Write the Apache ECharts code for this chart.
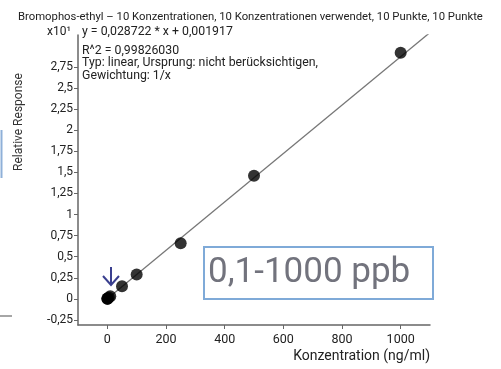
<!DOCTYPE html>
<html><head><meta charset="utf-8">
<script src="https://cdn.jsdelivr.net/npm/echarts@6/dist/echarts.min.js"></script>
<style>html,body{margin:0;padding:0;background:#fff}#c{width:501px;height:369px}</style>
</head><body><div id="c"></div>
<script>
const concentrations = [0.1, 0.5, 1, 5, 10, 50, 100, 250, 500, 1000];
const responses = [0.0, 0.002, 0.003, 0.015, 0.03, 0.15, 0.29, 0.66, 1.46, 2.92];
const fitX = [0, 1100];
const fitSlope = 0.0028722, fitIntercept = 0.0001917;
const yTicks = [-0.25, 0, 0.25, 0.5, 0.75, 1, 1.25, 1.5, 1.75, 2, 2.25, 2.5, 2.75];
const xTicks = [0, 200, 400, 600, 800, 1000];
const titleText = 'Bromophos-ethyl – 10 Konzentrationen, 10 Konzentrationen verwendet, 10 Punkte, 10 Punkte';
const eqLines = ['y = 0,028722 * x + 0,001917', 'R^2 = 0,99826030', 'Typ: linear, Ursprung: nicht berücksichtigen,', 'Gewichtung: 1/x'];

const fmt = v => String(v).replace('.', ',');
const chart = echarts.init(document.getElementById('c'));
const F = 'Roboto';
chart.setOption({
  animation: false,
  title: { text: titleText, left: 13, top: 7, textStyle: { fontFamily: F, fontSize: 11.3, fontWeight: 'normal', color: '#222' } },
  grid: { left: 78, right: 71, top: 35, bottom: 44 },
  xAxis: {
    type: 'value', min: -100, max: 1100,
    name: 'Konzentration (ng/ml)', nameLocation: 'end', nameGap: 0,
    nameTextStyle: { fontFamily: F, fontSize: 14, color: '#222', align: 'right', verticalAlign: 'top', padding: [24, 0, 0, 0] },
    axisLine: { onZero: false, lineStyle: { color: '#666', width: 1.5 } },
    axisTick: { customValues: xTicks, length: 4, lineStyle: { color: '#666' } },
    axisLabel: { customValues: xTicks, fontFamily: F, fontSize: 12.5, color: '#222', margin: 8, formatter: v => String(v) },
    splitLine: { show: false }
  },
  yAxis: {
    type: 'value', min: -0.31, max: 3.13,
    axisLine: { show: true, onZero: false, lineStyle: { color: '#666', width: 1.5 } },
    axisTick: { show: true, customValues: yTicks, length: 4, lineStyle: { color: '#666' } },
    axisLabel: { customValues: yTicks, fontFamily: F, fontSize: 12, color: '#222', margin: 5, formatter: fmt },
    splitLine: { show: false }
  },
  series: [
    { type: 'line', data: fitX.map(x => [x, fitSlope * x + fitIntercept]), symbol: 'none', lineStyle: { color: '#777', width: 1.3 }, z: 1 },
    { type: 'scatter', data: concentrations.map((c, i) => [c, responses[i]]), symbolSize: 12, itemStyle: { color: '#000' }, z: 3 }
  ],
  graphic: [
    { type: 'text', left: 47, top: 26, style: { text: 'x10¹', font: '12px Roboto', fill: '#222' } },
    { type: 'group', left: 82, top: 26, children: [
      { type: 'text', left: 0, top: 0, style: { text: eqLines[0], font: '12.3px Roboto', fill: '#222' } },
      { type: 'text', left: 0, top: 19, style: { text: eqLines[1], font: '12.3px Roboto', fill: '#222' } },
      { type: 'text', left: 0, top: 31, style: { text: eqLines[2], font: '12.3px Roboto', fill: '#222' } },
      { type: 'text', left: 0, top: 44, style: { text: eqLines[3], font: '12.3px Roboto', fill: '#222' } }
    ]},
    { type: 'text', rotation: Math.PI / 2, x: 13, y: 171, style: { text: 'Relative Response', font: '12px Roboto', fill: '#333' } },
    { type: 'line', shape: { x1: 1.5, y1: 130, x2: 1.5, y2: 178 }, style: { stroke: '#8fb0d8', lineWidth: 2 } },
    { type: 'line', shape: { x1: 0, y1: 316, x2: 12, y2: 316 }, style: { stroke: '#888', lineWidth: 1.5 } },
    { type: 'rect', shape: { x: 204, y: 247, width: 229, height: 52 }, style: { fill: '#fff', stroke: '#7faad8', lineWidth: 2 }, z: 10 },
    { type: 'text', x: 208, y: 256, style: { text: '0,1-1000 ppb', font: '35px Roboto', fill: '#72737d' }, z: 11 },
    { type: 'group', z: 12, children: [
      { type: 'line', shape: { x1: 111, y1: 267, x2: 111, y2: 285 }, style: { stroke: '#3a3f8f', lineWidth: 2 } },
      { type: 'polyline', shape: { points: [[103, 276], [111, 285], [119, 276]] }, style: { stroke: '#3a3f8f', lineWidth: 2, fill: null } }
    ]}
  ]
});
</script></body></html>
